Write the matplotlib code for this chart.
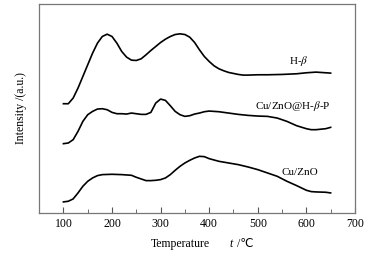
import matplotlib
matplotlib.use("Agg")
import matplotlib.pyplot as plt
from matplotlib.ticker import MultipleLocator

plt.rcParams['font.family'] = ['Liberation Serif', 'DejaVu Serif']
plt.rcParams['mathtext.fontset'] = 'stix'

# Temperature (°C) and intensity (a.u.)
t_hbeta = [100, 110, 120, 130, 140, 150, 160, 170, 180, 190, 200, 210, 220, 230, 240, 250,
           260, 270, 280, 290, 300, 310, 320, 330, 340, 350, 360, 370, 380, 390, 400, 410,
           420, 430, 440, 450, 460, 470, 480, 500, 520, 550, 580, 600, 620, 650]
i_hbeta = [328, 328, 345, 375, 410, 445, 480, 510, 530, 537, 530, 510, 485, 468, 459, 458,
           463, 475, 488, 500, 512, 522, 530, 536, 538, 536, 528, 512, 490, 470, 455, 442,
           433, 427, 422, 419, 416, 414, 414, 415, 415, 416, 418, 421, 423, 420]

t_p = [100, 110, 120, 130, 140, 150, 160, 170, 180, 190, 200, 210, 220, 230, 240, 250,
       260, 270, 280, 290, 300, 310, 320, 330, 340, 350, 360, 370, 380, 390, 400, 420,
       440, 460, 480, 500, 520, 540, 560, 580, 600, 610, 620, 640, 650]
i_p = [208, 210, 220, 245, 275, 295, 305, 312, 313, 310, 302, 298, 298, 297, 300, 298,
       296, 296, 302, 330, 342, 338, 322, 305, 295, 290, 292, 297, 300, 304, 306, 304,
       300, 296, 293, 291, 290, 285, 275, 262, 253, 250, 250, 253, 257]

t_cz = [100, 110, 120, 130, 140, 150, 160, 170, 180, 200, 220, 240, 250, 260, 270, 280,
        290, 300, 310, 320, 330, 340, 350, 360, 370, 380, 390, 400, 420, 440, 460, 480,
        500, 520, 540, 560, 580, 600, 610, 620, 640, 650]
i_cz = [33, 35, 42, 60, 80, 95, 105, 112, 115, 116, 115, 113, 107, 102, 97, 97,
        98, 100, 105, 115, 128, 140, 150, 158, 165, 170, 169, 163, 155, 150, 145, 138,
        130, 120, 110, 95, 82, 68, 64, 63, 62, 60]

fig = plt.figure(figsize=(3.8, 2.59), dpi=100)
ax = fig.add_axes([0.103, 0.178, 0.831, 0.807])

for t, i in [(t_hbeta, i_hbeta), (t_p, i_p), (t_cz, i_cz)]:
    ax.plot(t, i, color='black', lw=1.2)

ax.set_xlim(50, 700)
ax.set_ylim(0, 628)
ax.xaxis.set_major_locator(MultipleLocator(100))
ax.xaxis.set_minor_locator(MultipleLocator(50))
ax.tick_params(axis='x', which='both', direction='in', labelsize=8.5, color='#555555', pad=4)
ax.tick_params(axis='x', which='major', length=4)
ax.tick_params(axis='x', which='minor', length=3)
ax.set_yticks([])
for s in ax.spines.values():
    s.set_color('#777777')
    s.set_linewidth(0.9)

ax.text(585, 455, r'H-$\beta$', fontsize=8, ha='center', va='center')
ax.text(572, 322, r'Cu/ZnO@H-$\beta$-P', fontsize=8, ha='center', va='center')
ax.text(587, 120, 'Cu/ZnO', fontsize=8, ha='center', va='center')

ax.set_ylabel('Intensity /(a.u.)', fontsize=8.5, labelpad=9)

# x-axis label: "Temperature    t /℃"
fig.text(0.398, 0.048, 'Temperature', fontsize=8.5, ha='left', va='baseline')
fig.text(0.605, 0.048, 't', fontsize=8.5, style='italic', ha='left', va='baseline')
fig.text(0.624, 0.048, '/℃', fontsize=8.5, ha='left', va='baseline',
         family=['Liberation Serif', 'DejaVu Sans'])

fig.savefig('out.png', dpi=100)
